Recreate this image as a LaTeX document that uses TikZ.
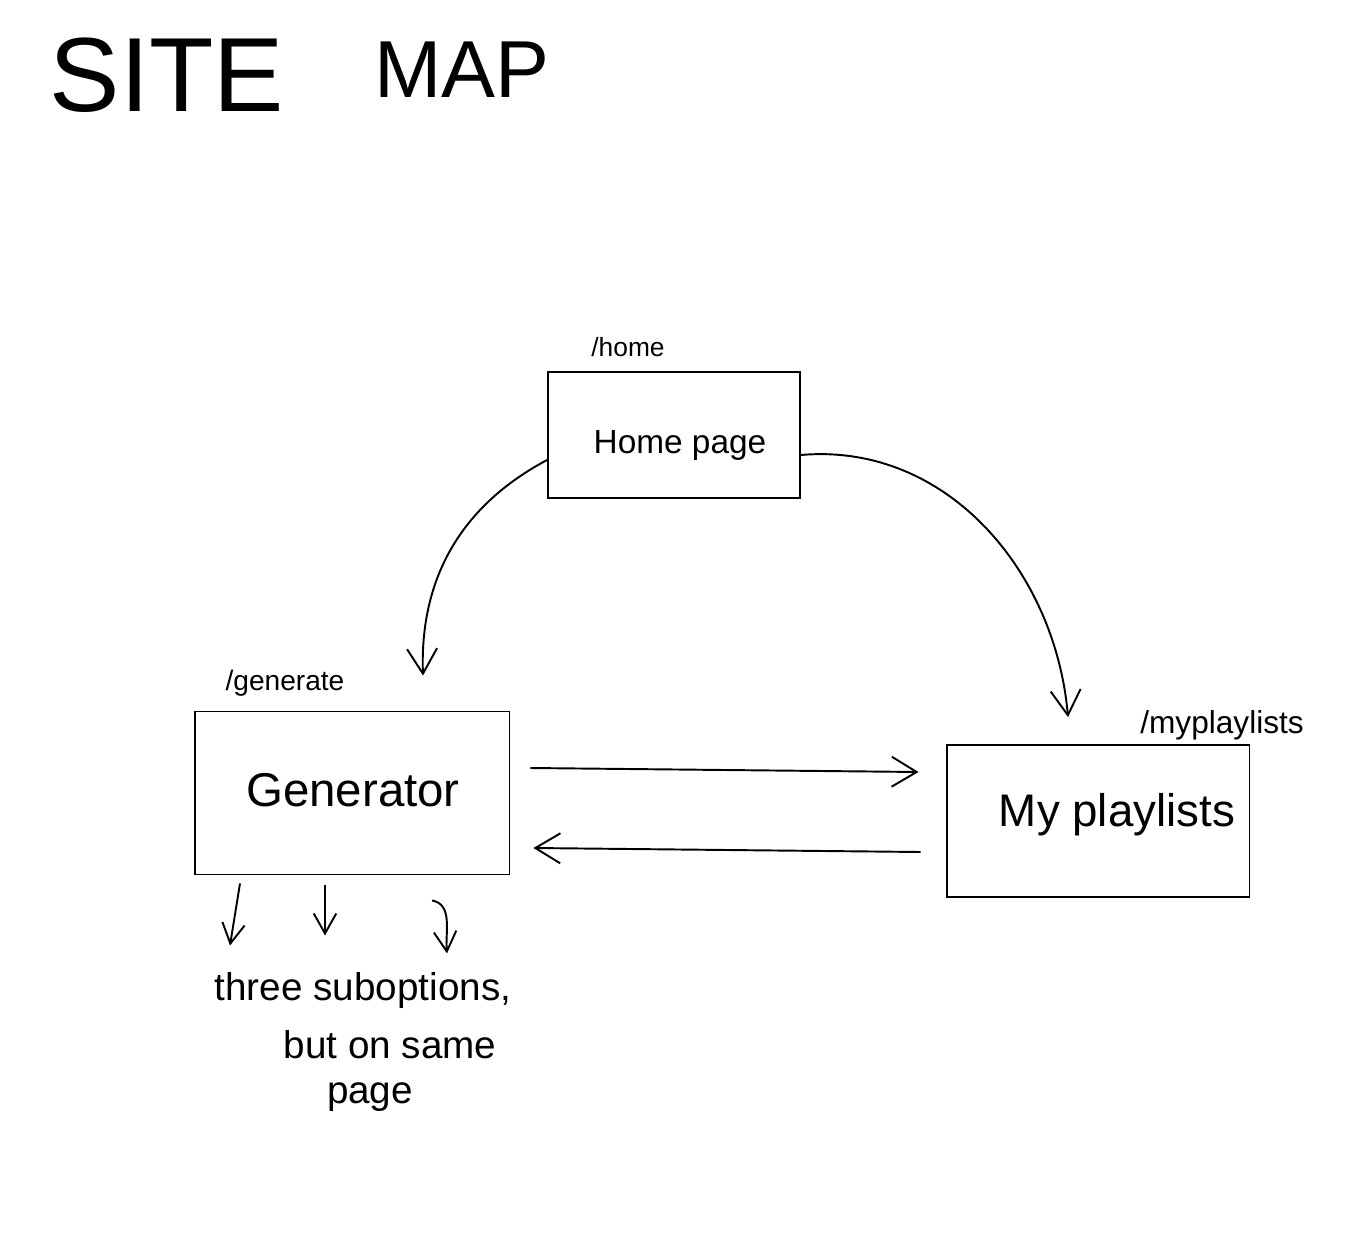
\documentclass[tikz,border=0pt]{standalone}
\usepackage{fontspec}
\setmainfont{Liberation Sans}
\usetikzlibrary{arrows.meta,calc}
\begin{document}
\begin{tikzpicture}[x=0.02cm,y=-0.02cm,
  pen/.style={line width=1.1pt, draw=black},
  box/.style={pen, rectangle, inner sep=0pt},
  arr/.style={pen, -{Straight Barb[length=0.5cm,width=0.6cm,line width=1.1pt]}},
  smallarr/.style={pen, -{Straight Barb[length=0.4cm,width=0.45cm,line width=1.1pt]}},
  lbl/.style={inner sep=0pt},
]
\useasboundingbox (0,0) rectangle (1372,1260);

% title
\node[lbl, font=\fontsize{60}{66}\selectfont] (t1) at (167,75) {SITE};
\node[lbl, font=\fontsize{46}{50}\selectfont] (t2) at (462,70) {MAP};

% boxes
\node[box, minimum width=5.04cm, minimum height=2.52cm] (home) at (674,435) {};
\node[box, minimum width=6.3cm, minimum height=3.26cm] (gen) at (352,793) {};
\node[box, minimum width=6.06cm, minimum height=3.04cm] (pl) at (1098,821) {};

% box texts
\node[lbl, font=\fontsize{19}{22}\selectfont] (hometext) at (680,445) {Home page};
\node[lbl, font=\fontsize{27}{30}\selectfont] (gentext) at (353,790) {Generator};
\node[lbl, font=\fontsize{26}{30}\selectfont] (pltext) at (1117,815) {My playlists};

% route labels
\node[lbl, font=\fontsize{15}{18}\selectfont] (homeroute) at (628,347) {/home};
\node[lbl, font=\fontsize{16}{18}\selectfont] (genroute) at (285,683) {/generate};
\node[lbl, font=\fontsize{18}{20}\selectfont] (plroute) at (1222,725) {/myplaylists};

% note below generator
\node[lbl, font=\fontsize{22}{26}\selectfont] (sub1) at (363,990) {three suboptions,};
\node[lbl, font=\fontsize{22}{26}\selectfont] (sub2) at (390,1045) {but on same};
\node[lbl, font=\fontsize{22}{26}\selectfont] (sub3) at (370,1097) {page};

% connectors
\draw[arr] ($(home.west)+(0,25)$) to[out=208,in=92] ($(gen.north)+(71,-35)$);
\draw[arr] ($(home.east)+(0,20)$) to[out=5,in=95] ($(pl.north)+(-30,-27)$);
\draw[arr] ($(gen.east)+(20,-25)$) -- ($(pl.west)+(-27,-49)$);
\draw[arr] ($(pl.west)+(-25,31)$) -- ($(gen.east)+(23,55)$);

% three small arrows
\draw[smallarr] ($(gen.south)+(-112,8)$) -- ($(gen.south)+(-122,70)$);
\draw[smallarr] ($(gen.south)+(-27,10)$) -- ($(gen.south)+(-27,60)$);
\draw[smallarr] ($(gen.south)+(80,25)$) to[out=-10,in=95] ($(gen.south)+(95,78)$);
\end{tikzpicture}
\end{document}
